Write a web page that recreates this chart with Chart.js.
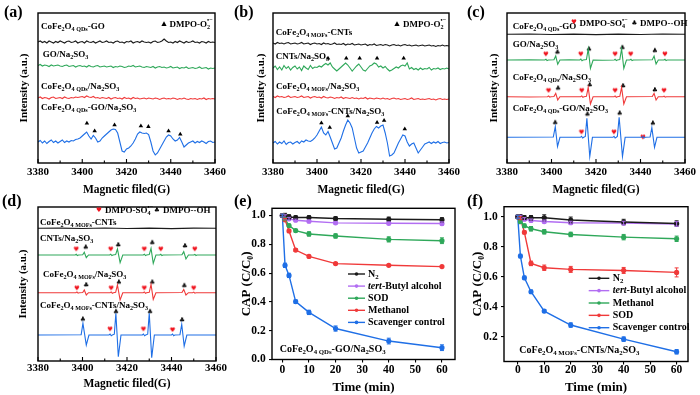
<!DOCTYPE html>
<html lang="en">
<head>
<meta charset="UTF-8">
<script src="https://cdn.jsdelivr.net/npm/chart.js"></script>
<title>EPR spectra and scavenger tests</title>
<style>
  body { margin: 0; background: #fff; }
  #fig { position: relative; width: 700px; height: 395px; overflow: hidden; }
  #fig canvas { position: absolute; }
  .tag { position: absolute; font: bold 16px "Liberation Serif", serif; color: #000; line-height: 16px; }
</style>
</head>
<body>
<div id="fig">
  <canvas id="cA" width="233" height="197" style="left:0;top:0"></canvas>
  <canvas id="cB" width="233" height="197" style="left:233px;top:0"></canvas>
  <canvas id="cC" width="234" height="197" style="left:466px;top:0"></canvas>
  <canvas id="cD" width="233" height="198" style="left:0;top:197px"></canvas>
  <canvas id="cE" width="233" height="198" style="left:233px;top:197px"></canvas>
  <canvas id="cF" width="234" height="198" style="left:466px;top:197px"></canvas>
  <div class="tag" style="left:4px;top:4px">(a)</div>
  <div class="tag" style="left:234px;top:4px">(b)</div>
  <div class="tag" style="left:467px;top:4px">(c)</div>
  <div class="tag" style="left:2px;top:193px">(d)</div>
  <div class="tag" style="left:234px;top:193px">(e)</div>
  <div class="tag" style="left:467px;top:193px">(f)</div>
</div>
<script>
// ---- EPR field axis ----
var field = Array.from({ length: 81 }, (_, i) => 3380 + i);   // 1 G sampling
var fieldTicks = [3380, 3400, 3420, 3440, 3460];
var fieldMinor = [3390, 3410, 3430, 3450];

// ---- (a) CoFe2O4 QDs-GO, DMPO-O2 (stacked, a.u.) ----
var aBlack = [121, 122, 120.5, 121.5, 120, 122, 121, 120, 121.5, 120.5,
  122, 121, 120, 121.5, 122, 120.5, 121, 122, 120, 121,
  121.5, 120, 122, 121, 120.5, 121.5, 120, 121, 122, 120.5,
  121, 122, 120.5, 121, 120, 121.5, 122, 120.5, 121, 120,
  121.5, 121, 122, 120, 121, 121.5, 120.5, 122, 121, 120.5,
  121, 120, 121.5, 122, 120.5, 121, 122, 124, 122, 120.5,
  121, 120, 121.5, 120.5, 122, 121, 120, 121.5, 120.5, 121,
  122, 120.5, 121, 120, 121.5, 121, 120, 121.5, 120.5, 121, 120.5];
var aGreen = [97.5, 98.5, 97, 98, 97.5, 96.5, 98, 97, 97.5, 98,
  97, 96.5, 97.5, 98, 96.5, 97, 97.5, 96, 97, 97.5,
  96.5, 97, 96, 97.5, 96.5, 96, 97, 97.5, 96, 96.5,
  97, 96, 96.5, 97, 95.5, 96.5, 96, 97, 96.5, 95.5,
  96, 97, 96.5, 97.5, 96, 96.5, 97, 96, 95.5, 96.5,
  96, 95.5, 96.5, 95, 96, 96.5, 95.5, 96, 95, 95.5,
  96.5, 95, 95.5, 96, 94.5, 95.5, 95, 96, 94.5, 95,
  95.5, 94.5, 95, 96, 94.5, 95, 95.5, 94, 95, 94.5, 95];
var aRed = [65, 66, 64.5, 65.5, 65, 64, 65.5, 66, 64.5, 65,
  65.5, 64.5, 66, 65, 64.5, 65.5, 65, 66, 65.5, 66,
  66.5, 65.5, 67, 66, 65.5, 66.5, 65, 65.5, 64.5, 65.5,
  65, 64.5, 65.5, 64, 65, 65.5, 64.5, 65, 64, 65.5,
  64.5, 65, 64, 65.5, 64.5, 65, 64, 64.5, 65, 64,
  65, 64.5, 64, 65, 64.5, 63.5, 64.5, 65, 64, 64.5,
  64, 65, 64.5, 63.5, 64.5, 64, 65, 64, 63.5, 64.5,
  64, 64.5, 63.5, 64.5, 64, 65, 63.5, 64.5, 64, 64.5, 64];
var aBlue = [21, 22.5, 20, 22, 19.5, 21.5, 23, 20.5, 22, 20,
  21.5, 23, 20.5, 22, 21, 22.5, 22, 23.5, 24, 25,
  27, 29, 31, 27, 24, 27.5, 25, 21, 22, 25,
  27, 29, 31, 33, 34, 33.5, 30, 21, 12, 11,
  14, 15, 17, 20, 24, 29, 31, 30, 29.5, 30,
  28.5, 21, 12, 8, 10, 14, 18, 22, 26, 28,
  27, 24, 22, 23, 25.5, 21, 16, 18, 20, 21,
  22, 20, 21.5, 20.5, 22, 21, 19.5, 21.5, 22, 20.5, 21];
var aTriX = [3402.1, 3405.6, 3414.6, 3426.5, 3429.9, 3439, 3444.3];
var aTriY = [39.7, 32, 38, 37, 36.3, 32, 28.7];

// ---- (b) CoFe2O4 MOFs-CNTs, DMPO-O2 ----
var bBlack = [120, 119, 120.5, 119.5, 120, 119, 120, 120.5, 119, 119.5,
  120, 119, 119.5, 120.5, 119, 119.5, 120, 118.5, 119.5, 120,
  119, 119.5, 118.5, 120, 119, 119.5, 118.5, 119, 120, 118.5,
  119, 118.5, 119.5, 118, 119, 118.5, 119.5, 118, 118.5, 119,
  118, 118.5, 119, 117.5, 118.5, 118, 119, 117.5, 118, 118.5,
  117.5, 118.5, 118, 117, 118, 118.5, 117.5, 118, 117, 118,
  118.5, 117.5, 118, 117, 117.5, 118, 117, 117.5, 118, 117,
  117.5, 118, 117, 117.5, 116.5, 117.5, 117, 118, 117, 117.5, 117];
var bGreen = [95, 97, 93.5, 96, 93, 97.5, 94.5, 96.5, 93, 95.5,
  97, 94, 96, 92.5, 97, 95, 93.5, 97.5, 94.5, 96,
  95.5, 97, 96, 98, 99.5, 98, 100, 96, 94, 92,
  94, 96, 98, 100, 98, 95, 92, 94.5, 97, 99,
  96, 93, 92, 94.5, 97, 98, 100, 99, 96, 97,
  95, 96.5, 94, 92, 93, 94.5, 96, 95, 97, 98,
  97, 100, 94, 95.5, 93.5, 94.5, 93, 95, 93.5, 94.5,
  94, 95.5, 93, 94.5, 94, 95, 93.5, 94.5, 94, 95, 94];
var bRed = [66.5, 65.5, 67, 66, 66.5, 65.5, 66, 67, 65.5, 66,
  66.5, 65.5, 66, 67, 65.5, 66, 66.5, 65, 66, 66.5,
  65.5, 66, 65, 66.5, 65.5, 65, 66, 65.5, 64.5, 65.5,
  65, 66, 64.5, 65.5, 65, 64.5, 65.5, 64.5, 65, 64,
  65, 64.5, 65.5, 64, 65, 64.5, 64, 65, 64.5, 64,
  65, 64, 64.5, 63.5, 64.5, 65, 64, 64.5, 63.5, 64,
  64.5, 63.5, 64, 65, 63.5, 64, 64.5, 63.5, 64, 63.5,
  64, 64.5, 63.5, 64, 63, 64, 64.5, 63.5, 64, 63.5, 64];
var bBlue = [20, 21.5, 19, 21, 19.5, 22, 18.5, 20.5, 21, 19,
  20.5, 21.5, 19.5, 22, 21, 23, 22, 21.5, 23, 25,
  28, 32, 36, 30, 28, 31.5, 26, 20, 14, 15,
  20, 25, 32, 38, 43, 40, 35, 25, 15, 10,
  11, 12, 16, 20, 25, 30, 34, 36.5, 35, 37,
  38, 30, 20, 7, 8, 10, 15, 20, 24, 28,
  27, 21, 17, 19, 20, 15, 10, 13, 16, 19,
  20, 21, 19.5, 21, 20, 21.5, 19.5, 20.5, 21, 20, 20.5];
var bGreenTriX = [3405, 3413.3, 3419.4, 3427.3, 3439.4];
var bGreenTriY = [104.7, 104.7, 104.7, 104.7, 104.7];
var bBlueTriX = [3402, 3405.8, 3414, 3427.3, 3430.5, 3439.9];
var bBlueTriY = [40, 35.5, 47, 40.5, 42.5, 34];

// ---- (c) CoFe2O4 QDs-GO, DMPO-SO4 / DMPO-OH: [field, signal] ----
var cBase = [128.7, 103, 66.3, 25.7];
var cBlack = [[3380, 0], [3390, 0.3], [3400, -0.2], [3410, 0.2], [3420, -0.3], [3430, 0.2], [3440, -0.2], [3450, 0.3], [3460, 0]];
var cGreen = [[3380, 0], [3390, 0.3], [3397, 0], [3397.5, 0.8], [3398, -0.6], [3398.6, 0], [3401.1, 0.2], [3401.9, 4], [3402.8, -4.3], [3403.8, 0],
  [3408, 0.3], [3412.7, 0], [3413.2, 1], [3413.7, -0.7], [3414.2, 0], [3415.7, 0.5], [3416.5, 11], [3417.5, -8.3], [3418.7, 0],
  [3423, -0.3], [3428.2, 0], [3428.6, 0.8], [3429.1, -0.6], [3429.6, 0], [3430.7, 0.5], [3431.5, 11], [3432.5, -8.3], [3433.7, 0],
  [3435.2, 0], [3435.7, 0.8], [3436.2, -0.6], [3436.8, 0], [3445.3, 0.3], [3446.1, 4], [3447, -4], [3448, 0],
  [3450.5, 0], [3451, 0.7], [3451.5, -0.5], [3452, 0], [3460, 0]];
var cRed = [[3380, 0], [3390, -0.3], [3398.2, 0], [3398.7, 0.7], [3399.2, -0.5], [3399.7, 0], [3401.1, 0.2], [3401.9, 3.3], [3402.8, -3.3], [3403.8, 0],
  [3413.1, 0], [3413.6, 0.8], [3414.1, -0.6], [3414.6, 0], [3415.7, 0.4], [3416.5, 9.3], [3417.5, -7.3], [3418.7, 0],
  [3428.1, 0], [3428.6, 0.8], [3429.1, -0.6], [3429.6, 0], [3430.7, 0.4], [3431.5, 9.3], [3432.5, -7.3], [3433.7, 0],
  [3445.3, 0.2], [3446.1, 3.3], [3447, -3.3], [3448, 0], [3450.1, 0], [3450.6, 0.6], [3451.1, -0.5], [3451.6, 0], [3460, 0]];
var cBlue = [[3380, 0], [3400.8, 0.3], [3401.7, 10.7], [3402.7, -9.3], [3403.8, 0],
  [3413, 0], [3413.5, 1], [3414, -0.7], [3414.5, 0], [3415.2, 0.8], [3415.9, 19], [3417.2, -19.3], [3418.4, 0],
  [3427.6, 0], [3428.1, 1], [3428.6, -0.7], [3429.1, 0], [3429.6, 0.8], [3430.4, 20], [3431.9, -19.3], [3433.1, 0],
  [3440.6, 0], [3441.1, 1], [3441.6, -0.7], [3442.1, 0], [3444.3, 0.3], [3445.1, 9.7], [3446.3, -10], [3447.4, 0], [3460, 0]];
var cHeartX = [3397.5, 3413.2, 3428.6, 3435.6, 3451, 3398.7, 3413.6, 3428.6, 3450.6, 3413.5, 3428.1, 3441.1];
var cHeartY = [108.7, 108.7, 108.7, 108.7, 108.7, 72.3, 72.3, 72.3, 72.3, 30.7, 30.7, 25.7];
var cClubX = [3402.7, 3416.9, 3431.9, 3446.5, 3403, 3417.2, 3432.2, 3446.5, 3401.7, 3416.2, 3430.7, 3445.6];
var cClubY = [110.7, 113.7, 115.3, 112.3, 74.7, 78, 77, 73, 40.3, 48.7, 49.7, 39.7];

// ---- (d) CoFe2O4 MOFs-CNTs, DMPO-SO4 / DMPO-OH ----
var dBase = [132.7, 106, 68.3, 26];
var dBlack = [[3380, 0], [3390, 0.2], [3400, -0.2], [3410, 0.3], [3420, -0.2], [3430, 0.2], [3440, -0.3], [3450, 0.2], [3460, 0]];
var dGreen = [[3380, 0], [3396.7, 0], [3397.2, 0.7], [3397.7, -0.5], [3398.2, 0], [3400.1, 0.2], [3400.8, 2.7], [3401.7, -2.7], [3402.7, 0],
  [3412.2, 0], [3412.7, 0.8], [3413.2, -0.6], [3413.7, 0], [3414.9, 0.4], [3415.7, 6], [3416.9, -7.7], [3418.1, 0],
  [3427.3, 0], [3427.8, 0.8], [3428.3, -0.6], [3428.8, 0], [3430, 0.4], [3430.8, 6.7], [3431.8, -8.3], [3433, 0],
  [3434.7, 0], [3435.2, 0.7], [3435.7, -0.5], [3436.2, 0], [3444.7, 0.2], [3445.5, 3.3], [3446.5, -4], [3447.6, 0],
  [3450, 0], [3450.5, 0.6], [3451, -0.5], [3451.5, 0], [3460, 0]];
var dRed = [[3380, 0], [3397, 0], [3397.5, 0.7], [3398, -0.5], [3398.5, 0], [3400.1, 0.2], [3400.8, 2.7], [3401.7, -2.3], [3402.7, 0],
  [3412.4, 0], [3412.9, 0.8], [3413.4, -0.6], [3413.9, 0], [3414.9, 0.4], [3415.7, 7.7], [3416.9, -7.3], [3418.1, 0],
  [3427.3, 0], [3427.8, 0.8], [3428.3, -0.6], [3428.8, 0], [3430, 0.4], [3430.8, 8.3], [3431.8, -6.7], [3433, 0],
  [3444.7, 0.2], [3445.5, 3.3], [3446.5, -2.3], [3447.6, 0], [3449.5, 0], [3450, 0.6], [3450.5, -0.5], [3451, 0], [3460, 0]];
var dBlue = [[3380, 0], [3399.4, 0.3], [3400.2, 11.7], [3401.7, -10], [3402.9, 0],
  [3411.9, 0], [3412.4, 1], [3412.9, -0.7], [3413.4, 0], [3414.3, 0.8], [3415, 21.7], [3416.1, -21.7], [3417.3, 0],
  [3426.9, 0], [3427.4, 1], [3427.9, -0.7], [3428.4, 0], [3429.3, 0.8], [3430, 21.7], [3431.1, -22.7], [3432.3, 0],
  [3440, 0], [3440.5, 1], [3441, -0.7], [3441.5, 0], [3443.8, 0.3], [3444.6, 10.7], [3445.7, -11], [3446.9, 0], [3460, 0]];
var dHeartX = [3397.2, 3412.7, 3427.8, 3435.2, 3450.5, 3397.5, 3412.9, 3427.8, 3450, 3412.4, 3427.4, 3440.5];
var dHeartY = [111.7, 111.7, 111.7, 111.7, 111.7, 72.7, 72.7, 72.7, 72.7, 31.7, 31.7, 31];
var dClubX = [3401.5, 3416.1, 3431.4, 3446.1, 3401.7, 3416.4, 3431.4, 3445.8, 3400.2, 3415.1, 3430.4, 3444.8];
var dClubY = [113.7, 116, 118.3, 115, 76, 78.7, 78.7, 75.3, 41.7, 49.3, 49.3, 41];

// ---- (e)/(f) CAP removal with scavengers ----
var minutes = [0, 1, 2.5, 5, 10, 20, 40, 60];
var timeTicks = [0, 10, 20, 30, 40, 50, 60];
var eTicksY = [0, 0.2, 0.4, 0.6, 0.8, 1.0];
var fTicksY = [0.2, 0.4, 0.6, 0.8, 1.0];

var eNames = ['N_{2}', '*{tert}-Butyl alcohol', 'SOD', 'Methanol', 'Scavenger control'];
var eN2 = [1.0, 0.995, 0.99, 0.986, 0.986, 0.979, 0.974, 0.970];
var eTba = [1.0, 0.99, 0.977, 0.967, 0.96, 0.949, 0.946, 0.944];
var eSod = [1.0, 0.975, 0.93, 0.895, 0.872, 0.858, 0.834, 0.825];
var eMeoh = [1.0, 0.97, 0.893, 0.76, 0.716, 0.666, 0.654, 0.645];
var eCtrl = [1.0, 0.654, 0.584, 0.402, 0.327, 0.215, 0.128, 0.082];
var eN2Err = [0.01, 0.02, 0.015, 0.012, 0.012, 0.012, 0.015, 0.015];
var eTbaErr = [0.01, 0.015, 0.01, 0.008, 0.01, 0.01, 0.01, 0.012];
var eSodErr = [0.01, 0.01, 0.01, 0.01, 0.015, 0.015, 0.018, 0.02];
var eMeohErr = [0.01, 0.01, 0.01, 0.01, 0.008, 0.008, 0.006, 0.006];
var eCtrlErr = [0.01, 0.015, 0.015, 0.012, 0.015, 0.018, 0.02, 0.02];

var fNames = ['N_{2}', '*{tert}-Butyl alcohol', 'Methanol', 'SOD', 'Scavenger control'];
var fN2 = [1.0, 1.0, 0.993, 0.993, 0.993, 0.978, 0.965, 0.955];
var fTba = [1.0, 1.0, 0.984, 0.975, 0.968, 0.96, 0.958, 0.952];
var fMeoh = [1.0, 0.967, 0.94, 0.92, 0.9, 0.882, 0.864, 0.853];
var fSod = [1.0, 0.99, 0.896, 0.689, 0.66, 0.649, 0.642, 0.629];
var fCtrl = [1.0, 0.738, 0.593, 0.5, 0.371, 0.278, 0.184, 0.1];
var fN2Err = [0.01, 0.015, 0.015, 0.015, 0.02, 0.02, 0.018, 0.018];
var fTbaErr = [0.01, 0.01, 0.01, 0.01, 0.01, 0.01, 0.012, 0.015];
var fMeohErr = [0.01, 0.01, 0.012, 0.015, 0.015, 0.015, 0.018, 0.018];
var fSodErr = [0.01, 0.01, 0.01, 0.015, 0.018, 0.02, 0.02, 0.03];
var fCtrlErr = [0.01, 0.012, 0.012, 0.012, 0.01, 0.015, 0.015, 0.015];
</script>
<script>
    var serif = '"Liberation Serif", "DejaVu Serif", serif';
    var INK = '#1b1b1b', GREEN = '#2fa85a', RED = '#f03a3a', BLUE = '#1f6fe6', PURPLE = '#b26ef2', HEART = '#f0141e';

    // text with _{sub}, ^{sup} (stacked on a preceding sub) and *{italic}
    function richText(ctx, str, x, y, size, color) {
        var re = /([_^*])\{([^}]*)\}|([^_^*]+)/g, m, cx = x, subX = null;
        ctx.save();
        ctx.fillStyle = color || '#000';
        ctx.textAlign = 'left';
        ctx.textBaseline = 'middle';
        while ((m = re.exec(str))) {
            var kind = m[1] || '', t = m[1] ? m[2] : m[3];
            var fs = size, dy = 0, style = 'bold';
            if (kind == '_') { fs = size * 0.68; dy = size * 0.32; }
            if (kind == '^') { fs = size * 0.68; dy = -size * 0.4; }
            if (kind == '*') style = 'italic bold';
            ctx.font = style + ' ' + fs + 'px ' + serif;
            var sx = (kind == '^' && subX !== null) ? subX : cx;
            ctx.fillText(t, sx, y + dy);
            var w = ctx.measureText(t).width;
            if (kind == '_') { subX = cx; cx += w; }
            else if (kind == '^') { cx = Math.max(cx, sx + w); subX = null; }
            else { cx += w; subX = null; }
        }
        ctx.restore();
    }

    function drawSym(ctx, kind, x, y) {
        ctx.save();
        if (kind == 'tri') {
            ctx.fillStyle = '#000';
            ctx.beginPath();
            ctx.moveTo(x, y - 2.8); ctx.lineTo(x + 2.6, y + 2); ctx.lineTo(x - 2.6, y + 2);
            ctx.closePath(); ctx.fill();
        } else {
            ctx.fillStyle = kind == 'heart' ? HEART : '#000';
            ctx.font = '6.5px "DejaVu Sans"';
            ctx.textAlign = 'center';
            ctx.textBaseline = 'middle';
            ctx.fillText(kind == 'heart' ? '\u2665' : '\u2663', x, y);
        }
        ctx.restore();
    }

    function glyph(kind) {
        var c = document.createElement('canvas');
        c.width = 8; c.height = 8;
        drawSym(c.getContext('2d'), kind, 4, 4);
        return c;
    }
    var heartImg = glyph('heart'), clubImg = glyph('club');

    // box frame, inward ticks for the EPR panels
    var framePlugin = {
        id: 'frame',
        afterDraw(chart, args, opts) {
            var ctx = chart.ctx, a = chart.chartArea;
            ctx.save();
            ctx.strokeStyle = '#000';
            ctx.lineWidth = 1.4;
            ctx.strokeRect(a.left, a.top, a.right - a.left, a.bottom - a.top);
            if (opts.inward) {
                var s = chart.scales.x;
                ctx.lineWidth = 1.1;
                ctx.beginPath();
                fieldTicks.forEach(v => { var p = s.getPixelForValue(v); ctx.moveTo(p, a.bottom); ctx.lineTo(p, a.bottom - 4); });
                fieldMinor.forEach(v => { var p = s.getPixelForValue(v); ctx.moveTo(p, a.bottom); ctx.lineTo(p, a.bottom - 2.5); });
                ctx.stroke();
            }
            ctx.restore();
        }
    };

    // labels, symbol keys and the e/f legend
    var notesPlugin = {
        id: 'notes',
        afterDraw(chart, args, opts) {
            var ctx = chart.ctx;
            (opts.items || []).forEach(n => {
                if (n.sym) drawSym(ctx, n.sym, n.x, n.y);
                else richText(ctx, n.t, n.x, n.y, n.size || 9);
            });
            var lg = opts.legend;
            if (lg) {
                chart.data.datasets.forEach((ds, i) => {
                    var y = lg.y + i * lg.dy;
                    ctx.save();
                    ctx.strokeStyle = ds.borderColor;
                    ctx.fillStyle = ds.borderColor;
                    ctx.lineWidth = 1.4;
                    ctx.beginPath(); ctx.moveTo(lg.x0, y); ctx.lineTo(lg.x1, y); ctx.stroke();
                    ctx.beginPath(); ctx.arc((lg.x0 + lg.x1) / 2, y, 1.8, 0, Math.PI * 2); ctx.fill();
                    ctx.restore();
                    richText(ctx, ds.label, lg.tx, y, lg.size);
                });
            }
        }
    };

    var errPlugin = {
        id: 'errbars',
        afterDatasetsDraw(chart, args, opts) {
            if (!opts.errors) return;
            var ctx = chart.ctx, xs = chart.scales.x, ys = chart.scales.y;
            ctx.save();
            chart.data.datasets.forEach((ds, i) => {
                ctx.strokeStyle = ds.borderColor;
                ctx.lineWidth = 1;
                ds.data.forEach((p, j) => {
                    var e = opts.errors[i][j];
                    var px = xs.getPixelForValue(p.x), y1 = ys.getPixelForValue(p.y + e), y2 = ys.getPixelForValue(p.y - e);
                    ctx.beginPath();
                    ctx.moveTo(px, y1); ctx.lineTo(px, y2);
                    ctx.moveTo(px - 2, y1); ctx.lineTo(px + 2, y1);
                    ctx.moveTo(px - 2, y2); ctx.lineTo(px + 2, y2);
                    ctx.stroke();
                });
            });
            ctx.restore();
        }
    };

    function font(size, lh) {
        return { family: serif, weight: 'bold', size: size, lineHeight: lh || 1.2 };
    }
    function fromGrid(vals) { return vals.map((v, i) => ({ x: field[i], y: v })); }
    function fromPairs(pairs, base) { return pairs.map(p => ({ x: p[0], y: p[1] + base })); }
    function fromXY(xs, ys) { return xs.map((x, i) => ({ x: x, y: ys[i] })); }
    function trace(data, color) {
        return { data: data, borderColor: color, borderWidth: 1.1, pointRadius: 0, tension: 0 };
    }
    function marks(data, style, radius) {
        return { data: data, showLine: false, pointStyle: style, pointRadius: radius || 2.6,
                 backgroundColor: '#000', borderWidth: 0 };
    }

    function eprChart(id, datasets, L) {
        return new Chart(document.getElementById(id), {
            type: 'line',
            data: { datasets: datasets },
            options: {
                responsive: false,
                animation: false,
                layout: { padding: L.pad },
                plugins: {
                    legend: { display: false },
                    tooltip: { enabled: false },
                    frame: { inward: true },
                    notes: { items: L.notes }
                },
                scales: {
                    x: {
                        type: 'linear', min: 3380, max: 3460,
                        afterBuildTicks: s => { s.ticks = fieldTicks.map(v => ({ value: v })); },
                        afterFit: s => { s.height = L.xh; },
                        grid: { display: false, drawTicks: false },
                        border: { display: false },
                        ticks: { padding: L.tp, color: '#000', font: font(11, 1), callback: v => String(v) },
                        title: { display: true, text: 'Magnetic filed(G)', color: '#000', padding: 0, font: font(11.5) }
                    },
                    y: {
                        min: 0, max: L.ymax,
                        afterFit: s => { s.width = L.yw; },
                        grid: { display: false, drawTicks: false },
                        border: { display: false },
                        ticks: { display: false },
                        title: { display: true, text: 'Intensity (a.u.)', color: '#000', padding: 0, font: font(11) }
                    }
                }
            },
            plugins: [framePlugin, notesPlugin]
        });
    }

    function capChart(id, series, names, colors, errors, L) {
        var datasets = series.map((vals, i) => ({
            label: names[i],
            data: minutes.map((t, j) => ({ x: t, y: vals[j] })),
            borderColor: colors[i], backgroundColor: colors[i],
            borderWidth: 1.4, pointRadius: 1.9, tension: 0
        }));
        return new Chart(document.getElementById(id), {
            type: 'line',
            data: { datasets: datasets },
            options: {
                responsive: false,
                animation: false,
                layout: { padding: L.pad },
                plugins: {
                    legend: { display: false },
                    tooltip: { enabled: false },
                    frame: {},
                    errbars: { errors: errors },
                    notes: { items: L.notes, legend: L.legend }
                },
                scales: {
                    x: {
                        type: 'linear', min: L.xmin, max: L.xmax,
                        afterBuildTicks: s => { s.ticks = timeTicks.map(v => ({ value: v })); },
                        afterFit: s => { s.height = L.xh; },
                        grid: { drawOnChartArea: false, tickLength: 3, color: '#000', lineWidth: 1.1 },
                        border: { display: false },
                        ticks: { padding: L.tp, color: '#000', font: font(11.5, 1), callback: v => String(v) },
                        title: { display: true, text: 'Time (min)', color: '#000', padding: 0, font: font(13) }
                    },
                    y: {
                        min: L.ymin, max: L.ymax,
                        afterBuildTicks: s => { s.ticks = L.yticks.map(v => ({ value: v })); },
                        afterFit: s => { s.width = L.yw; },
                        grid: { drawOnChartArea: false, tickLength: 3, color: '#000', lineWidth: 1.1 },
                        border: { display: false },
                        ticks: { padding: 3.3, color: '#000', font: font(11.5, 1), callback: v => v.toFixed(1) },
                        title: { display: true, text: 'CAP (C/C\u2080)', color: '#000', padding: 0, font: font(13) }
                    }
                }
            },
            plugins: [framePlugin, errPlugin, notesPlugin]
        });
    }

    var O2 = 'DMPO-O_{2}^{\u2022\u2212}', SO4 = 'DMPO-SO_{4}^{\u2022\u2212}', OH = 'DMPO-\u00b7OH';

    eprChart('cA', [
        trace(fromGrid(aBlack), INK), trace(fromGrid(aGreen), GREEN),
        trace(fromGrid(aRed), RED), trace(fromGrid(aBlue), BLUE),
        marks(fromXY(aTriX, aTriY), 'triangle')
    ], {
        pad: { left: 17.4, right: 18, top: 13, bottom: 0 }, yw: 20.6, xh: 34, tp: 3.5, ymax: 150,
        notes: [
            { t: 'CoFe_{2}O_{4 QDs}-GO', x: 41, y: 27 },
            { t: 'GO/Na_{2}SO_{3}', x: 42.7, y: 55 },
            { t: 'CoFe_{2}O_{4 QDs}/Na_{2}SO_{3}', x: 41, y: 86.5 },
            { t: 'CoFe_{2}O_{4 QDs}-GO/Na_{2}SO_{3}', x: 41, y: 108 },
            { sym: 'tri', x: 164, y: 24 }, { t: O2, x: 169.5, y: 24.5 }
        ]
    });

    eprChart('cB', [
        trace(fromGrid(bBlack), INK), trace(fromGrid(bGreen), GREEN),
        trace(fromGrid(bRed), RED), trace(fromGrid(bBlue), BLUE),
        marks(fromXY(bGreenTriX, bGreenTriY), 'triangle'), marks(fromXY(bBlueTriX, bBlueTriY), 'triangle')
    ], {
        pad: { left: 21.7, right: 17, top: 13, bottom: 0 }, yw: 18.3, xh: 34, tp: 3.5, ymax: 150,
        notes: [
            { t: 'CoFe_{2}O_{4 MOFs}-CNTs', x: 42.7, y: 33 },
            { t: 'CNTs/Na_{2}SO_{3}', x: 42.7, y: 57 },
            { t: 'CoFe_{2}O_{4 MOFs}/Na_{2}SO_{3}', x: 43, y: 87 },
            { t: 'CoFe_{2}O_{4 MOFs}-CNTs/Na_{2}SO_{3}', x: 43.3, y: 112 },
            { sym: 'tri', x: 164, y: 24 }, { t: O2, x: 170, y: 24.5 }
        ]
    });

    eprChart('cC', [
        trace(fromPairs(cBlack, cBase[0]), INK), trace(fromPairs(cGreen, cBase[1]), GREEN),
        trace(fromPairs(cRed, cBase[2]), RED), trace(fromPairs(cBlue, cBase[3]), BLUE),
        marks(fromXY(cHeartX, cHeartY), heartImg), marks(fromXY(cClubX, cClubY), clubImg)
    ], {
        pad: { left: 21.7, right: 15, top: 13, bottom: 0 }, yw: 19.3, xh: 34, tp: 3.5, ymax: 150,
        notes: [
            { t: 'CoFe_{2}O_{4 QDs}-GO', x: 46.7, y: 26.7 },
            { sym: 'heart', x: 108, y: 22.7 }, { t: SO4, x: 113.5, y: 24 },
            { sym: 'club', x: 168.5, y: 23.3 }, { t: OH, x: 174, y: 23.5 },
            { t: 'GO/Na_{2}SO_{3}', x: 46.7, y: 44.3 },
            { t: 'CoFe_{2}O_{4 QDs}/Na_{2}SO_{3}', x: 46.7, y: 77.3 },
            { t: 'CoFe_{2}O_{4 QDs}-GO/Na_{2}SO_{3}', x: 46.7, y: 108.3 }
        ]
    });

    eprChart('cD', [
        trace(fromPairs(dBlack, dBase[0]), INK), trace(fromPairs(dGreen, dBase[1]), GREEN),
        trace(fromPairs(dRed, dBase[2]), RED), trace(fromPairs(dBlue, dBase[3]), BLUE),
        marks(fromXY(dHeartX, dHeartY), heartImg), marks(fromXY(dClubX, dClubY), clubImg)
    ], {
        pad: { left: 16.7, right: 17, top: 10, bottom: 4 }, yw: 21.3, xh: 30, tp: 2, ymax: 154,
        notes: [
            { sym: 'heart', x: 98.8, y: 13 }, { t: SO4, x: 105, y: 14 },
            { sym: 'club', x: 157, y: 13 }, { t: OH, x: 163, y: 13.5 },
            { t: 'CoFe_{2}O_{4 MOFs}-CNTs', x: 40, y: 25.3 },
            { t: 'CNTs/Na_{2}SO_{3}', x: 40, y: 41.3 },
            { t: 'CoFe_{2}O_{4 MOFs}/Na_{2}SO_{3}', x: 43, y: 78 },
            { t: 'CoFe_{2}O_{4 MOFs}-CNTs/Na_{2}SO_{3}', x: 40, y: 109 }
        ]
    });

    capChart('cE', [eN2, eTba, eSod, eMeoh, eCtrl], eNames, [INK, PURPLE, GREEN, RED, BLUE],
        [eN2Err, eTbaErr, eSodErr, eMeohErr, eCtrlErr], {
        pad: { left: 5.5, right: 11, top: 11.3, bottom: 0 }, yw: 33.5, xh: 35.5, tp: 1.3,
        xmin: -3.9, xmax: 64.9, ymin: 0, ymax: 1.05, yticks: eTicksY,
        notes: [{ t: 'CoFe_{2}O_{4 QDs}-GO/Na_{2}SO_{3}', x: 46.7, y: 152.3, size: 10 }],
        legend: { x0: 115, x1: 132, tx: 135, y: 77, dy: 12.1, size: 10 }
    });

    capChart('cF', [fN2, fTba, fMeoh, fSod, fCtrl], fNames, [INK, PURPLE, GREEN, RED, BLUE],
        [fN2Err, fTbaErr, fMeohErr, fSodErr, fCtrlErr], {
        pad: { left: 3.9, right: 12, top: 9.7, bottom: 0 }, yw: 34.1, xh: 33.5, tp: 0,
        xmin: -5.2, xmax: 64.3, ymin: 0.035, ymax: 1.067, yticks: fTicksY,
        notes: [{ t: 'CoFe_{2}O_{4 MOFs}-CNTs/Na_{2}SO_{3}', x: 53.3, y: 153, size: 10 }],
        legend: { x0: 122.7, x1: 143.3, tx: 146.7, y: 81.3, dy: 12.35, size: 10 }
    });
</script>
</body>
</html>
